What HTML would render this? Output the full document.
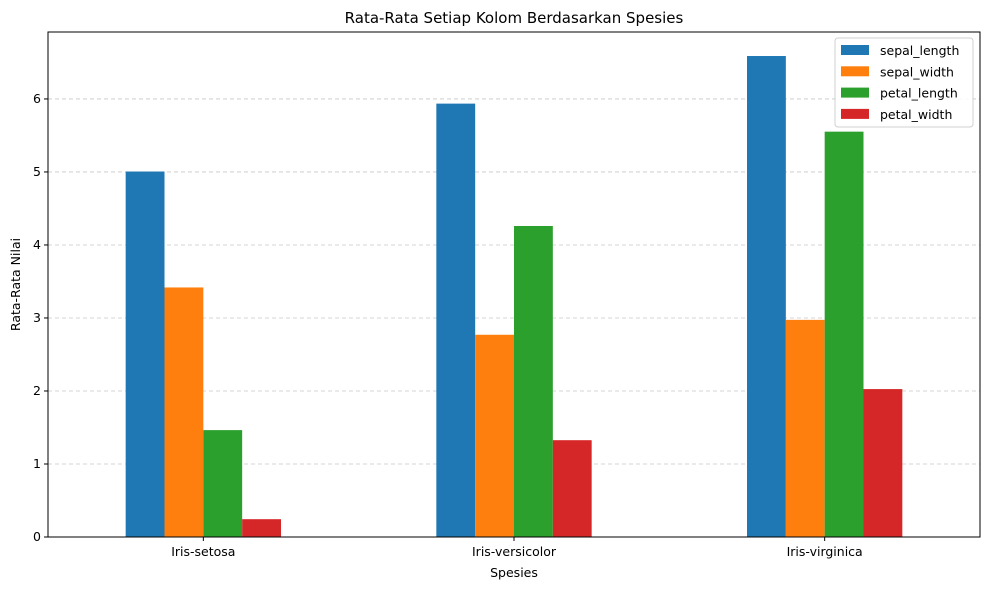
<!DOCTYPE html>
<html><head><meta charset="utf-8"><style>
body{margin:0;background:#fff;font-family:"Liberation Sans","DejaVu Sans",sans-serif;}
</style></head><body>
<svg id="chart" width="989" height="590" xmlns="http://www.w3.org/2000/svg" font-family="DejaVu Sans, Liberation Sans, sans-serif"></svg>
<script>
const categories = ["Iris-setosa","Iris-versicolor","Iris-virginica"];
const seriesNames = ["sepal_length","sepal_width","petal_length","petal_width"];
const sepalLength = [5.006, 5.936, 6.588];
const sepalWidth = [3.418, 2.770, 2.974];
const petalLength = [1.464, 4.260, 5.552];
const petalWidth = [0.244, 1.326, 2.026];
const yTicks = [0,1,2,3,4,5,6];
const colors = ["#1f77b4","#ff7f0e","#2ca02c","#d62728"];
const series = [sepalLength, sepalWidth, petalLength, petalWidth];

const NS = "http://www.w3.org/2000/svg";
const svg = document.getElementById('chart');
const L=48, R=980, T=32, B=537;
const yMax = 6.917;
function y(v){ return B - v/yMax*(B-T); }
const step = (R-L)/3;
function xc(i){ return L + step*(i+0.5); }
const groupW = step*0.5, barW = groupW/4;
function mk(tag, attrs, parent){ const e=document.createElementNS(NS,tag); for(const k in attrs) e.setAttribute(k,attrs[k]); (parent||svg).appendChild(e); return e; }

// grid
yTicks.forEach(t=>{
  const g = mk('line',{x1:L,x2:R,y1:y(t),y2:y(t),stroke:'#b0b0b0','stroke-width':0.8,'stroke-dasharray':'4,3',opacity:0.7});
  
  
});
// bars
series.forEach((s,si)=>{
  s.forEach((v,ci)=>{
    const x0 = xc(ci) - groupW/2 + si*barW;
    const r = mk('rect',{x:x0,y:y(v),width:barW,height:B-y(v),fill:colors[si]});
    
    
  });
});
// axes frame
const fr = mk('rect',{x:L,y:T,width:R-L,height:B-T,fill:'none',stroke:'#000','stroke-width':1});


// y ticks
yTicks.forEach(t=>{
  mk('line',{x1:L-4,x2:L,y1:y(t),y2:y(t),stroke:'#000'});
  const tx = mk('text',{x:L-7,y:y(t)+4,'text-anchor':'end','font-size':12.5});
  tx.textContent=t;
  
  
});
// x ticks
categories.forEach((c,i)=>{
  mk('line',{x1:xc(i),x2:xc(i),y1:B,y2:B+4,stroke:'#000'});
  const tx = mk('text',{x:xc(i),y:B+19,'text-anchor':'middle','font-size':12.5});
  tx.textContent=c;
  
  
});
// titles
let t1 = mk('text',{x:(L+R)/2,y:23,'text-anchor':'middle','font-size':15});
t1.textContent='Rata-Rata Setiap Kolom Berdasarkan Spesies';


let t2 = mk('text',{x:(L+R)/2,y:577,'text-anchor':'middle','font-size':12.5});
t2.textContent='Spesies';


let t3 = mk('text',{x:20,y:(T+B)/2,'text-anchor':'middle','font-size':12.5,transform:'rotate(-90 20 '+((T+B)/2)+')'});
t3.textContent='Rata-Rata Nilai';


// legend
const lg = mk('g',{});


mk('rect',{x:835,y:38,width:138,height:89,fill:'#fff',stroke:'#ccc',rx:3,opacity:0.9},lg);
seriesNames.forEach((n,i)=>{
  const yy = 50 + i*21.3;
  const g = mk('g',{},lg);
  
  
  mk('rect',{x:841,y:yy-5,width:28,height:10,fill:colors[i]},g);
  const tx = mk('text',{x:880,y:yy+5,'font-size':12.5},g);
  tx.textContent=n;
});
</script>
</body></html>
